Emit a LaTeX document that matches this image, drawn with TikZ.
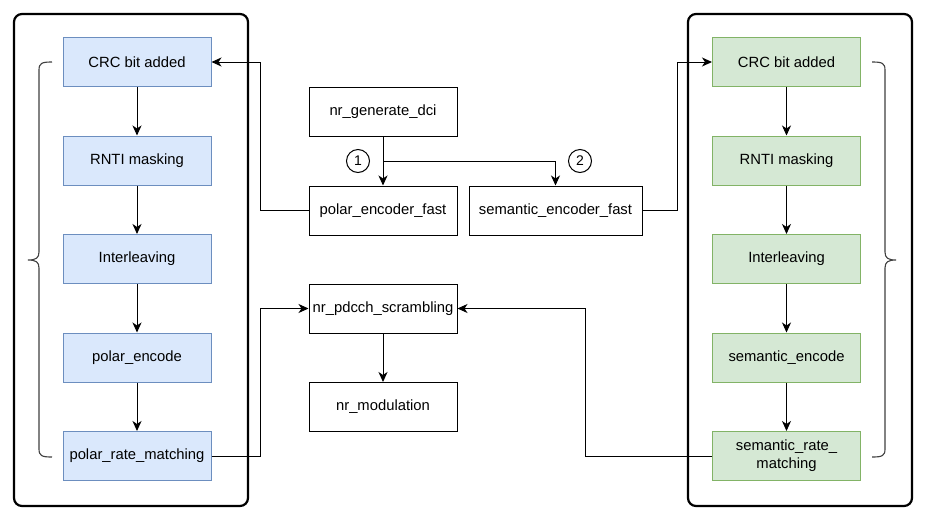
\documentclass[tikz,border=0pt]{standalone}
\usepackage{fontspec}
\setmainfont{Liberation Sans}
\usetikzlibrary{arrows.meta}
\definecolor{bfill}{HTML}{DAE8FC}
\definecolor{bline}{HTML}{6C8EBF}
\definecolor{gfill}{HTML}{D5E8D4}
\definecolor{gline}{HTML}{82B366}
\begin{document}
\begin{tikzpicture}[x=1pt,y=-1pt,
  every node/.style={font=\fontsize{14.8}{17}\selectfont},
  box/.style={draw, line width=1pt, minimum width=148, minimum height=49, inner sep=2pt, align=center},
  bluebox/.style={box, fill=bfill, draw=bline},
  greenbox/.style={box, fill=gfill, draw=gline},
  plainbox/.style={box, draw=black},
  arr/.style={line width=1pt, -{Stealth[length=10pt,width=9pt,inset=3pt]}},
  outer/.style={line width=2.2pt, rounded corners=8pt},
  brace/.style={line width=1.1pt, draw=black!75},
  num/.style={circle, draw, line width=1pt, minimum size=23, inner sep=0pt, font=\fontsize{14}{16}\selectfont}
]
\useasboundingbox (0,0) rectangle (926,520);
\fill[white] (0,0) rectangle (926,520);

% outer containers
\draw[outer] (14,14) rectangle (248,506);
\draw[outer] (688,14) rectangle (912,506);

% left column
\node[bluebox] (lcrc) at (137,62) {CRC bit added};
\node[bluebox] (lrnti) at (137,160.5) {RNTI masking};
\node[bluebox] (lint) at (137,259) {Interleaving};
\node[bluebox] (lenc) at (137,357.5) {polar\_encode};
\node[bluebox] (lrm) at (137,456) {polar\_rate\_matching};

% right column
\node[greenbox] (rcrc) at (786.5,62) {CRC bit added};
\node[greenbox] (rrnti) at (786.5,160.5) {RNTI masking};
\node[greenbox] (rint) at (786.5,259) {Interleaving};
\node[greenbox] (renc) at (786.5,357.5) {semantic\_encode};
\node[greenbox] (rrm) at (786.5,456) {semantic\_rate\_\\[1pt]matching};

% middle
\node[plainbox] (dci) at (383,112) {nr\_generate\_dci};
\node[plainbox] (pf) at (383,210.5) {polar\_encoder\_fast};
\node[plainbox, minimum width=173] (sf) at (555.5,210.5) {semantic\_encoder\_fast};
\node[plainbox] (scr) at (383,308.5) {nr\_pdcch\_scrambling};
\node[plainbox] (mod) at (383,407) {nr\_modulation};

\node[num] (n1) at (358,161) {1};
\node[num] (n2) at (580,161) {2};

% column arrows
\draw[arr] (lcrc) -- (lrnti);
\draw[arr] (lrnti) -- (lint);
\draw[arr] (lint) -- (lenc);
\draw[arr] (lenc) -- (lrm);
\draw[arr] (rcrc) -- (rrnti);
\draw[arr] (rrnti) -- (rint);
\draw[arr] (rint) -- (renc);
\draw[arr] (renc) -- (rrm);

% middle arrows
\coordinate (split) at (383,161);
\draw[arr] (dci) -- (pf);
\draw[arr] (split) -| (sf.north);
\draw[arr] (scr) -- (mod);

% cross connectors
\draw[arr] (pf.west) -- (260.5,210.5) |- (lcrc.east);
\draw[arr] (sf.east) -- (677,210.5) |- (rcrc.west);
\draw[arr] (lrm.east) -- (260.5,456) |- (scr.west);
\draw[arr] (rrm.west) -- (585,456) |- (scr.east);

% braces
\draw[brace] (52,62) .. controls (42,62) and (39,63) .. (39,70) -- (39,252)
  .. controls (39,258) and (36,260) .. (28,260)
  .. controls (36,260) and (39,262) .. (39,268) -- (39,449)
  .. controls (39,456) and (42,457) .. (52,457);
\draw[brace] (872,62) .. controls (882,62) and (885,63) .. (885,70) -- (885,252)
  .. controls (885,258) and (888,260) .. (896,260)
  .. controls (888,260) and (885,262) .. (885,268) -- (885,449)
  .. controls (885,456) and (882,457) .. (872,457);
\end{tikzpicture}
\end{document}
